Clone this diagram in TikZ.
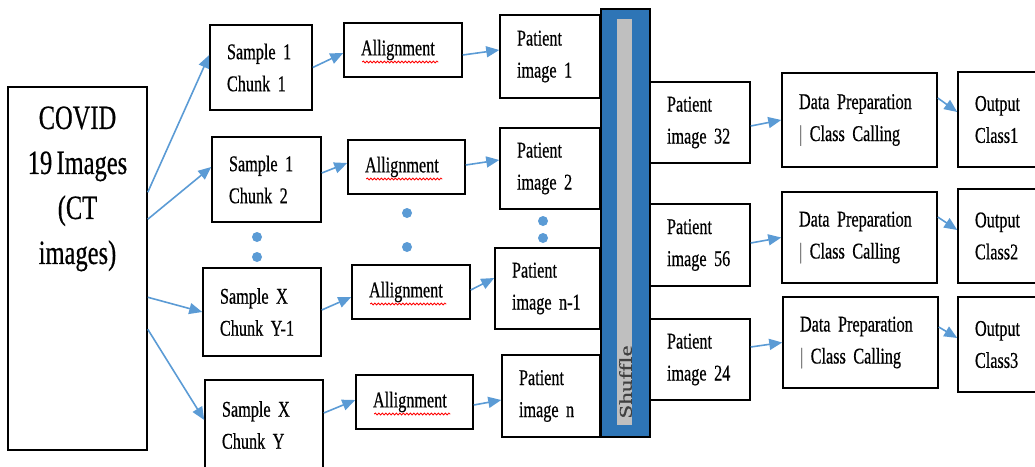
\documentclass[tikz,border=0pt]{standalone}
\usepackage{fontspec}
\setmainfont{Liberation Serif}[FakeStretch=0.72, FakeBold=0.5, WordSpace=0.7]
\newfontfamily\plainserif{Liberation Serif}[FakeBold=0.5]
\usetikzlibrary{arrows.meta}
\usetikzlibrary{decorations.pathmorphing}
\definecolor{linkblue}{HTML}{5B9BD5}
\definecolor{barblue}{HTML}{2E75B6}
\definecolor{bargray}{HTML}{BFBFBF}
\tikzset{
        blk/.style={draw, line width=1.5pt, inner sep=0pt, align=left, font=\fontsize{22.5}{32}\selectfont},
        link/.style={linkblue, line width=1.6pt, -{Triangle[length=13pt,width=11pt]}},
        dot/.style={circle, fill=linkblue, inner sep=0pt, minimum size=10pt},
        squiggle/.style={red, line width=0.8pt, decorate, decoration={snake, amplitude=1pt, segment length=3.5pt}}
}
\newcommand {\blk}[6] {\pgfmathsetmacro{\bw}{#4-#2}\pgfmathsetmacro{\bh}{#5-#3}\pgfmathsetmacro{\tw}{#4-#2-34}
                       \node[blk, minimum width=\bw, minimum height=\bh, text width=\tw] (#1) at ({(#2+#4)/2},{(#3+#5)/2}) {#6};}
\newcommand {\spell}[1] {\draw[squiggle] ([xshift=19,yshift=-12]#1.west) -- ([xshift=95,yshift=-12]#1.west);}
\newcommand {\gbar} {{\color{gray}|}}

\begin{document}
\begin{tikzpicture}[x=1pt, y=-1pt]
        \useasboundingbox (0,0) rectangle (1035,466);
        \clip (0,0) rectangle (1035,466);
        \blk{covid}{8}{87}{147}{450}{}
        \node[anchor=north, align=center, inner sep=0pt, font=\fontsize{34}{45}\selectfont] (covidtxt) at ([yshift=-20]covid.north) {COVID\\19 Images\\(CT\\images)};
        \blk{s11}{210}{25}{312}{110}{Sample 1\\Chunk 1}
        \blk{s12}{212}{137}{321}{222}{Sample 1\\Chunk 2}
        \blk{sy1}{203}{268}{321}{356}{Sample X\\Chunk Y-1}
        \blk{sy}{205}{380}{323}{470}{Sample X\\Chunk Y}
        \blk{a1}{344}{23}{462}{77}{Allignment}
        \blk{a2}{348}{140}{465}{194}{Allignment}
        \blk{a3}{352}{265}{470}{319}{Allignment}
        \blk{a4}{356}{375}{473}{429}{Allignment}
        \spell{a1} \spell{a2} \spell{a3} \spell{a4}
        \blk{p1}{500}{15}{600}{98}{Patient\\image 1}
        \blk{p2}{500}{128}{600}{209}{Patient\\image 2}
        \blk{pn1}{495}{248}{600}{329}{Patient\\image n-1}
        \blk{pn}{502}{355}{600}{437}{Patient\\image n}
        \node[draw, line width=1.5pt, fill=barblue, inner sep=0pt, minimum width=49, minimum height=428] (bar) at (625.5,223) {};
        \node[fill=bargray, inner sep=0pt, minimum width=15, minimum height=406] (barin) at (624.5,222) {};
        \node[rotate=90, inner sep=0pt, text=black!75] (shuffle) at (625.5,382) {\plainserif\fontsize{25}{25}\selectfont\scalebox{1}[0.72]{Shuffle}};
        \blk{q32}{650}{82}{750}{163}{Patient\\image 32}
        \blk{q56}{650}{204}{750}{286}{Patient\\image 56}
        \blk{q24}{650}{319}{750}{400}{Patient\\image 24}
        \blk{d1}{782}{73}{937}{167}{Data Preparation\\\gbar{} Class Calling}
        \blk{d2}{782}{192}{937}{283}{Data Preparation\\\gbar{} Class Calling}
        \blk{d3}{783}{297}{938}{388}{Data Preparation\\\gbar{} Class Calling}
        \blk{o1}{958}{72}{1046}{167}{Output\\Class1}
        \blk{o2}{958}{189}{1046}{283}{Output\\Class2}
        \blk{o3}{958}{297}{1046}{392}{Output\\Class3}
        \node[dot] (sdot1) at (257,237) {};
        \node[dot] (sdot2) at (257,257) {};
        \node[dot] (adot1) at (407,213) {};
        \node[dot] (adot2) at (407,247) {};
        \node[dot] (pdot1) at (543,221) {};
        \node[dot] (pdot2) at (543,238) {};
        \draw[link] ([yshift=-106]covid.north east) -- ([yshift=12.5]s11.west);
        \draw[link] ([yshift=-133]covid.north east) -- ([yshift=12.5]s12.west);
        \draw[link] ([yshift=-211]covid.north east) -- (sy1.west);
        \draw[link] ([yshift=-243]covid.north east) -- ([yshift=5]sy.west);
        \draw[link] (s11.east) -- ([yshift=-3]a1.west);
        \draw[link] ([yshift=6.5]s12.east) -- ([yshift=4]a2.west);
        \draw[link] ([yshift=2]sy1.east) -- ([yshift=-5]a3.west);
        \draw[link] ([yshift=12]sy.east) -- ([yshift=2]a4.west);
        \draw[link] ([yshift=-5]a1.east) -- ([yshift=6.5]p1.west);
        \draw[link] ([yshift=2]a2.east) -- ([yshift=8.5]p2.west);
        \draw[link] ([yshift=2]a3.east) -- ([yshift=10.5]pn1.west);
        \draw[link] ([yshift=-3]a4.east) -- ([yshift=-4]pn.west);
        \draw[link] ([yshift=-3.5]q32.east) -- (d1.west);
        \draw[link] ([yshift=2]q56.east) -- (d2.west);
        \draw[link] ([yshift=12.5]q24.east) -- (d3.west);
        \draw[link] ([yshift=22]d1.east) -- ([yshift=7.5]o1.west);
        \draw[link] ([yshift=20.5]d2.east) -- ([yshift=6]o2.west);
        \draw[link] ([yshift=15.5]d3.east) -- ([yshift=6.5]o3.west);
\end{tikzpicture}
\end{document}
